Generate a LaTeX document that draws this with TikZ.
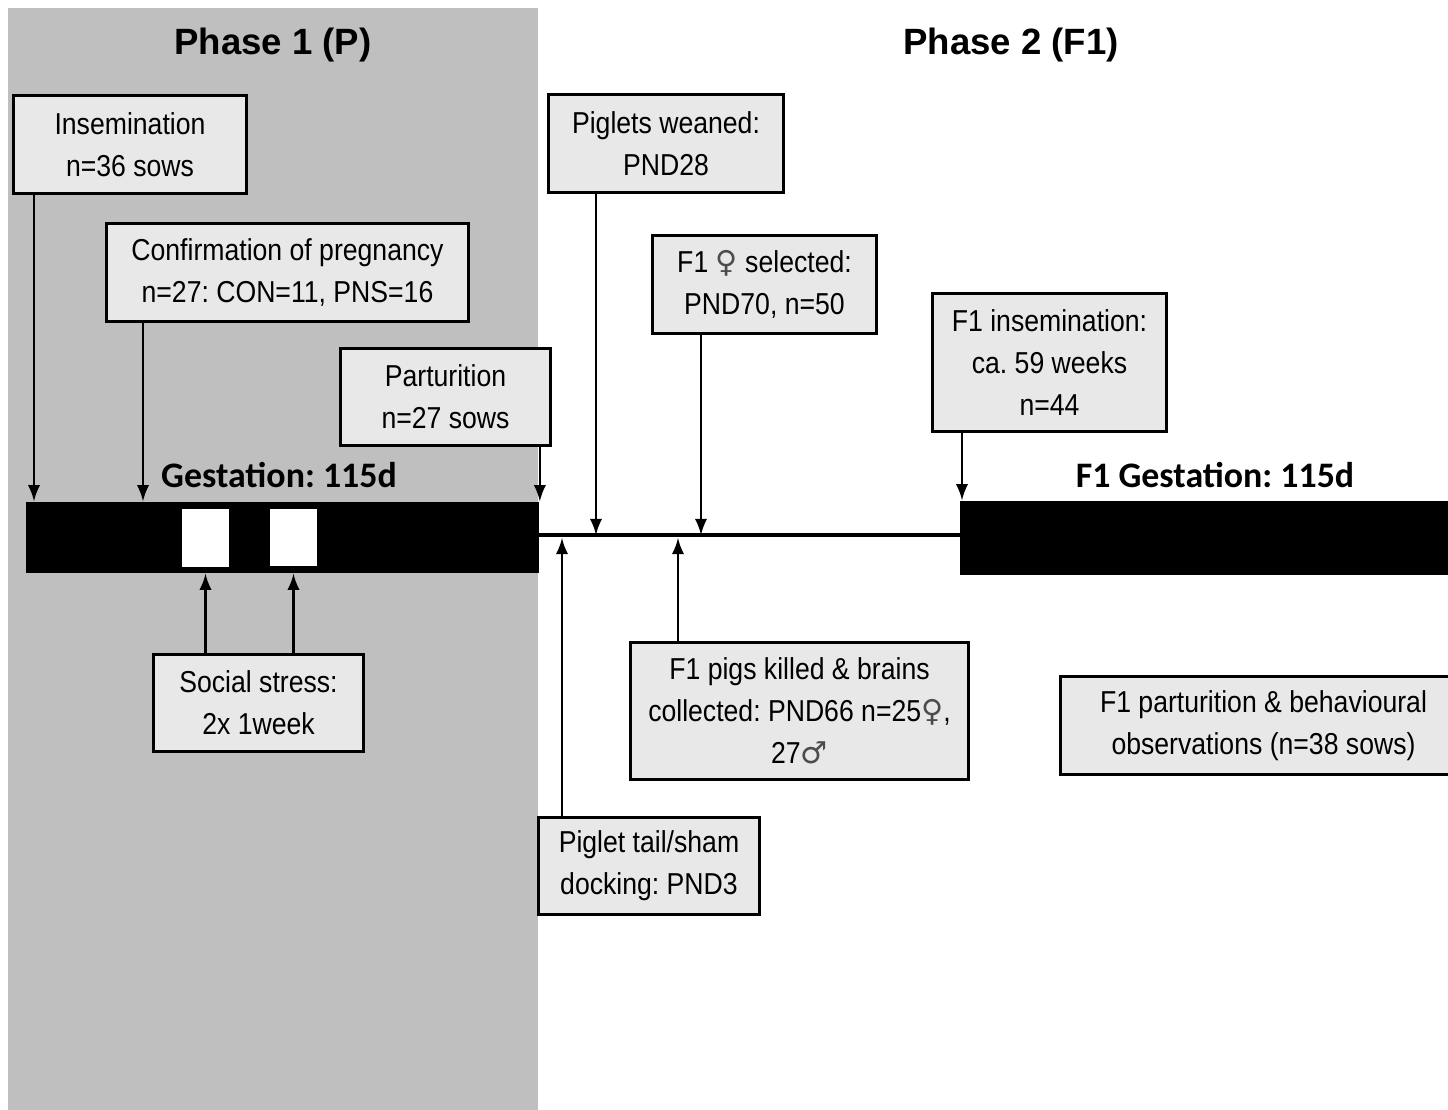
\documentclass[tikz,border=0pt]{standalone}
\usepackage{fontspec}
\usepackage{xcolor}
\setmainfont{Liberation Sans}[FakeStretch=0.88]
\newfontfamily\headfont{Liberation Sans}
\newfontfamily\barfont{Carlito}
\newfontfamily\symfont{DejaVu Sans}
\usetikzlibrary{positioning, arrows}
\definecolor{panelgray}{HTML}{BFBFBF}
\definecolor{boxgray}{HTML}{E8E8E8}
\newcommand{\fem}{{\symfont\color{black!70}♀}}
\newcommand{\mal}{{\symfont\color{black!70}♂}}
\frenchspacing

\begin{document}
\begin{tikzpicture}[x=0.01cm, y=-0.01cm,
        event/.style={draw, line width=0.85pt, fill=boxgray, align=center, inner sep=0pt,
            font=\fontsize{8.6}{11.9}\selectfont},
        phase/.style={font=\headfont\fontsize{10.4}{12}\selectfont\bfseries},
        period/.style={font=\barfont\fontsize{10.2}{12}\selectfont\bfseries},
        bar/.style={fill=black, inner sep=0pt},
        week/.style={fill=white, inner sep=0pt, minimum width=0.47cm, minimum height=0.57cm},
        tick/.style={-latex, line width=0.6pt}]
                    \useasboundingbox (0,0) rectangle (1448,1110);
                    \fill[panelgray] (8,8) rectangle (538,1110);

                    \node[phase] (p1) at (273,45) {Phase 1 (P)};
                    \node[phase] (p2) at (1011,45) {Phase 2 (F1)};

                    % time bars
                    \node[bar, minimum width=5.13cm, minimum height=0.71cm] (gest) at (282.5,537.5) {};
                    \node[bar, minimum width=5.1cm, minimum height=0.74cm] (fgest) at (1215,538) {};
                    \node[week] (w1) at (205.5,538) {};
                    \node[week] (w2) at (293.5,537.5) {};
                    \node[period] (gestlbl) at (279,475) {Gestation: 115d};
                    \node[period] (fgestlbl) at (1215,475) {F1 Gestation: 115d};
                    \coordinate (lineL) at (539,535);
                    \coordinate (lineR) at (960,535);
                    \draw[line width=1.1pt] (lineL) -- (lineR);

                    % events
                    \node[event, minimum width=2.32cm, minimum height=0.97cm] (ins) at (130,144.5) {Insemination\\n=36 sows};
                    \node[event, minimum width=3.61cm, minimum height=0.97cm] (conf) at (287.5,272.5) {Confirmation of pregnancy\\n=27: CON=11, PNS=16};
                    \node[event, minimum width=2.09cm, minimum height=0.96cm] (part) at (445.5,397) {Parturition\\n=27 sows};
                    \node[event, minimum width=2.34cm, minimum height=0.97cm] (wean) at (666,143.5) {Piglets weaned:\\PND28};
                    \node[event, minimum width=2.23cm, minimum height=0.97cm] (sel) at (764.5,284.5) {F1 \fem{} selected:\\PND70, n=50};
                    \node[event, minimum width=2.33cm, minimum height=1.37cm] (fins) at (1049.5,362.5) {F1 insemination:\\ca. 59 weeks\\n=44};
                    \node[event, minimum width=2.09cm, minimum height=0.96cm] (stress) at (258.5,703) {Social stress:\\2x 1week};
                    \node[event, minimum width=3.37cm, minimum height=1.36cm] (killed) at (799.5,711) {F1 pigs killed \& brains\\collected: PND66 n=25\fem,\\27\mal};
                    \node[event, minimum width=4.05cm, minimum height=0.97cm] (fpart) at (1263.5,725.5) {F1 parturition \& behavioural\\observations (n=38 sows)};
                    \node[event, minimum width=2.2cm, minimum height=0.96cm] (dock) at (649,866) {Piglet tail/sham\\docking: PND3};

                    % arrows
                    \draw[tick] (ins.south -| 34,0) -- (gest.north -| 34,0);
                    \draw[tick] (conf.south -| 143,0) -- (gest.north -| 143,0);
                    \draw[tick] (part.south -| gest.east) -- (gest.north east);
                    \draw[tick] (wean.south -| 596,0) -- (lineL -| 596,0);
                    \draw[tick] (sel.south -| 701,0) -- (lineL -| 701,0);
                    \draw[tick] (fins.south -| 962,0) -- (fgest.north -| 962,0);
                    \draw[tick] (stress.north -| w1) -- (gest.south -| w1);
                    \draw[tick] (stress.north -| w2) -- (gest.south -| w2);
                    \draw[tick] (killed.north -| 678,0) -- (678,538);
                    \draw[tick] (dock.north -| 562,0) -- (562,538);
\end{tikzpicture}
\end{document}
